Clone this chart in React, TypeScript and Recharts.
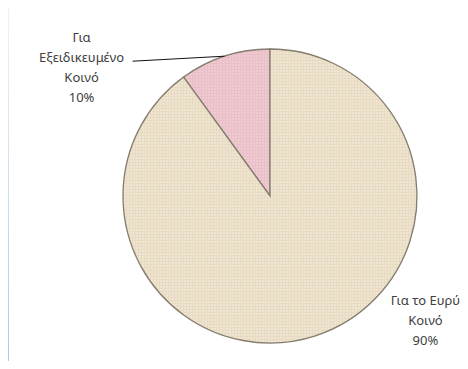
import { PieChart, Pie, Cell } from "recharts";

const names = ["Για\nΕξειδικευμένο\nΚοινό", "Για το Ευρύ\nΚοινό"];
const values = [10, 90];
const colors = ["url(#linenPink)", "url(#linenBeige)"];

const data = names.map((name, i) => ({ name, value: values[i] }));

const RADIAN = Math.PI / 180;

// where each label block sits relative to its slice's outer edge point
const labelPlace = [
  { dx: -143, dy: -18, lineTo: { dx: -92, dy: 5 } },
  { dx: 110, dy: -34, lineTo: null },
];

const renderLabel = (props: any) => {
  const { cx, cy, midAngle, outerRadius, index, name, percent } = props;
  const ax = cx + outerRadius * Math.cos(-midAngle * RADIAN);
  const ay = cy + outerRadius * Math.sin(-midAngle * RADIAN);
  const place = labelPlace[index];
  const lines = [...String(name).split("\n"), `${Math.round(percent * 100)}%`];
  const tx = ax + place.dx;
  const ty = ay + place.dy;
  return (
    <g key={`lbl-${index}`}>
      {place.lineTo && (
        <line
          x1={ax}
          y1={ay}
          x2={ax + place.lineTo.dx}
          y2={ay + place.lineTo.dy}
          stroke="#111"
          strokeWidth={1}
        />
      )}
      {lines.map((l, i) => (
        <text
          key={i}
          x={tx}
          y={ty + i * 20}
          textAnchor="middle"
          dominantBaseline="middle"
          fill="#404040"
          fontSize={13}
          fontFamily="'Noto Sans', sans-serif"
        >
          {l}
        </text>
      ))}
    </g>
  );
};

const App = () => {
  return (
    <div
      style={{
        margin: -8,
        width: 468,
        height: 369,
        position: "relative",
        background: "linear-gradient(to bottom, #eef4fb, #a8cbe9)",
        overflow: "hidden",
      }}
    >
      <svg width={0} height={0} style={{ position: "absolute" }}>
        <defs>
          <pattern id="linenBeige" width={3} height={3} patternUnits="userSpaceOnUse">
            <rect width={3} height={3} fill="#efe5d0" />
            <path d="M0 0.5H3M0.5 0V3" stroke="#e7dbc3" strokeWidth={1} />
          </pattern>
          <pattern id="linenPink" width={3} height={3} patternUnits="userSpaceOnUse">
            <rect width={3} height={3} fill="#f0cad1" />
            <path d="M0 0.5H3M0.5 0V3" stroke="#eac0c8" strokeWidth={1} />
          </pattern>
        </defs>
      </svg>
      <div
        style={{
          position: "absolute",
          left: 9,
          top: 7,
          right: 0,
          bottom: 0,
          background: "#fff",
        }}
      />
      <div style={{ position: "absolute", left: 0, top: 0 }}>
        <PieChart width={468} height={369}>
          <Pie
            data={data}
            dataKey="value"
            nameKey="name"
            cx={265}
            cy={191}
            outerRadius={147}
            startAngle={90}
            endAngle={450}
            stroke="#847c6e"
            strokeWidth={1.3}
            label={renderLabel}
            labelLine={false}
            isAnimationActive={false}
          >
            {data.map((d, i) => (
              <Cell key={d.name} fill={colors[i]} />
            ))}
          </Pie>
        </PieChart>
      </div>
    </div>
  );
};

export default App;
